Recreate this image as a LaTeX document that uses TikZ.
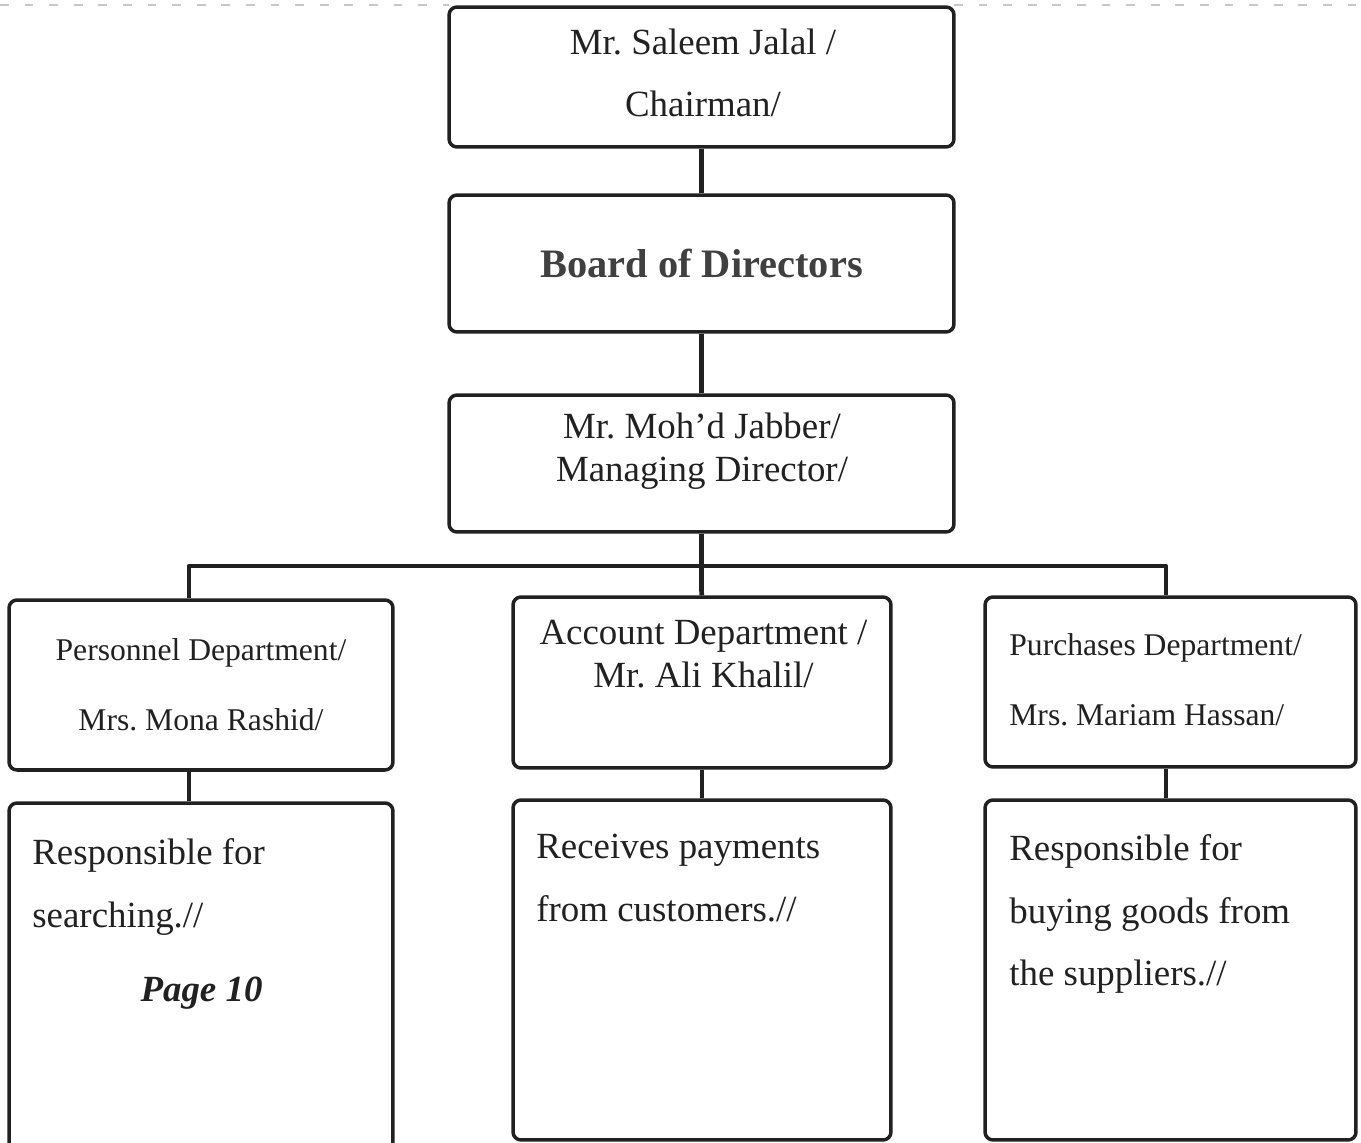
\documentclass[tikz,border=0pt]{standalone}
\usepackage{fontspec}
\setmainfont{Liberation Serif}
\usepackage{tikz}
\usetikzlibrary{positioning}
\definecolor{ink}{gray}{0.13}
\tikzset{auto}
\frenchspacing

\begin{document}
\begin{tikzpicture}[x=0.02cm, y=-0.02cm, line join=round,
		box/.style={draw=ink, line width=2pt, rounded corners=4.5pt, inner sep=0pt, text=ink, align=center},
		conn/.style={draw=ink, line width=2.7pt},
		txt/.style={inner sep=0pt, text=ink, align=center}]
		\useasboundingbox (0,0) rectangle (1361,1142);
		\draw[black!22, line width=0.6pt, dash pattern=on 5pt off 9pt] (0,5) -- (449,5) (954,5) -- (1361,5);
		\node[box, minimum width=10.1cm, minimum height=2.8cm](chair) at (701.5,77){};
		\node[txt, font=\fontsize{21}{35.2}\selectfont](chairtxt) at (703,73){Mr. Saleem Jalal /\\Chairman/};
		\node[box, minimum width=10.1cm, minimum height=2.74cm, text=black!75, font=\fontsize{23}{28}\selectfont\bfseries](board) at (701.5,263.5){Board of Directors};
		\node[box, minimum width=10.1cm, minimum height=2.74cm](md) at (701.5,463.5){};
		\node[txt, font=\fontsize{21}{24.2}\selectfont](mdtxt) at (702,451){Mr. Moh’d Jabber/\\Managing Director/};
		\node[box, minimum width=7.68cm, minimum height=3.4cm, font=\fontsize{18}{39.7}\selectfont](pers) at (201,685){Personnel Department/\\Mrs. Mona Rashid/};
		\node[box, minimum width=7.56cm, minimum height=3.42cm](acct) at (702,682.5){};
		\node[txt, font=\fontsize{21}{24.4}\selectfont](accttxt) at (703.5,654){Account Department /\\Mr. Ali Khalil/};
		\node[box, minimum width=7.42cm, minimum height=3.4cm](purch) at (1170.5,682){};
		\node[txt, anchor=west, align=left, font=\fontsize{18}{39.7}\selectfont](purchtxt) at (1009,680){Purchases Department/\\Mrs. Mariam Hassan/};
		\node[box, minimum width=7.68cm, minimum height=7.54cm](perstask) at (201,991.5){};
		\node[box, minimum width=7.56cm, minimum height=6.8cm](accttask) at (702,970){};
		\node[box, minimum width=7.42cm, minimum height=6.8cm](purchtask) at (1170.5,970){};
		\node[txt, anchor=north west, align=left, font=\fontsize{21}{35.7}\selectfont](perstasktxt) at (32,838){Responsible for\\searching.//};
		\node[txt, font=\fontsize{21}{25}\selectfont\bfseries\itshape](pagenum) at (201.5,993){Page 10};
		\node[txt, anchor=north west, align=left, font=\fontsize{21}{35.7}\selectfont](accttasktxt) at (536,834){Receives payments\\from customers.//};
		\node[txt, anchor=north west, align=left, font=\fontsize{21}{35.7}\selectfont](purchtasktxt) at (1009,834){Responsible for\\buying goods from\\the suppliers.//};
		\coordinate(busL) at (189,566);
		\coordinate(busR) at (1166,566);
		\draw[conn](chair) to (board);
		\draw[conn](board) to (md);
		\draw[conn](md.south) to (md.south |- busL);
		\draw[conn](busL |- pers.north) -- (busL) -- (busR) -- (busR |- purch.north);
		\draw[conn](md.south |- busL) to (acct);
		\draw[conn](busL |- pers.south) to (busL |- perstask.north);
		\draw[conn](acct) to (accttask);
		\draw[conn](busR |- purch.south) to (busR |- purchtask.north);
	\end{tikzpicture}
\end{document}
